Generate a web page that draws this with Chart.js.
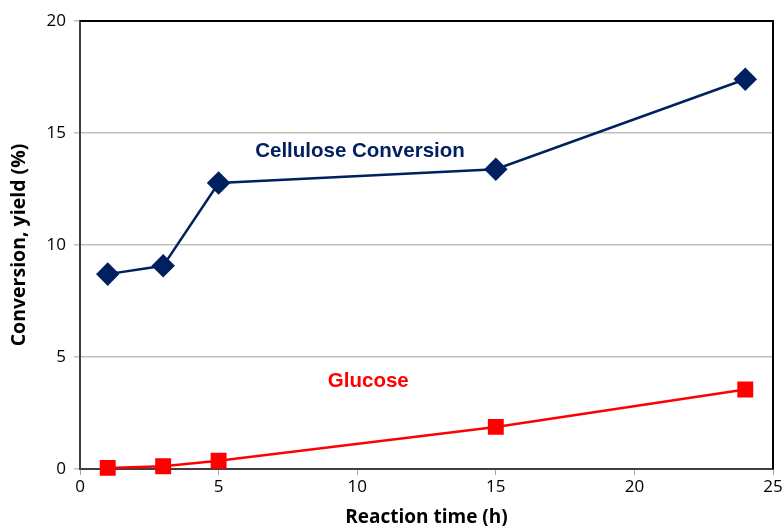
<!DOCTYPE html>
<html>
<head>
<meta charset="utf-8">
<script src="https://cdn.jsdelivr.net/npm/chart.js@4.4.0/dist/chart.umd.min.js"></script>
<style>
  html, body { margin: 0; padding: 0; background: #fff; }
  #wrap { width: 782px; height: 526px; }
</style>
</head>
<body>
<div id="wrap"><canvas id="chart"></canvas></div>
<script>
// reaction time (h) and measured values (%)
const hours = [1, 3, 5, 15, 24];
const cellulose = [8.7, 9.07, 12.77, 13.38, 17.4];
const glucose = [0.05, 0.12, 0.37, 1.88, 3.55];
const xTicks = [0, 5, 10, 15, 20, 25];
const yTicks = [0, 5, 10, 15, 20];

const FONT = "'Open Sans', 'Liberation Sans', sans-serif";

// series name written next to each curve, placed in data units
const seriesLabels = [
  { text: 'Cellulose Conversion', x: 10.1, y: 14.2, color: '#002060' },
  { text: 'Glucose', x: 10.4, y: 3.9, color: '#ff0000' }
];

const frameAndLabels = {
  id: 'frameAndLabels',
  afterDraw(chart) {
    const { ctx, chartArea: a, scales } = chart;
    ctx.save();
    // top and right edges of the plot box
    ctx.strokeStyle = '#000';
    ctx.lineWidth = 2;
    ctx.beginPath();
    ctx.moveTo(a.left, a.top);
    ctx.lineTo(a.right, a.top);
    ctx.lineTo(a.right, a.bottom);
    ctx.stroke();
    ctx.font = "bold 20.5px 'Liberation Sans', Arial, sans-serif";
    ctx.textAlign = 'center';
    ctx.textBaseline = 'middle';
    seriesLabels.forEach(l => {
      ctx.fillStyle = l.color;
      ctx.fillText(l.text, scales.x.getPixelForValue(l.x), scales.y.getPixelForValue(l.y));
    });
    ctx.restore();
  }
};

new Chart(document.getElementById('chart').getContext('2d'), {
  type: 'line',
  data: {
    datasets: [
      {
        label: 'Cellulose Conversion',
        data: hours.map((h, i) => ({ x: h, y: cellulose[i] })),
        borderColor: '#002060',
        backgroundColor: '#002060',
        borderWidth: 2.5,
        pointStyle: 'rectRot',
        pointRadius: 10,
        pointHoverRadius: 10,
        tension: 0
      },
      {
        label: 'Glucose',
        data: hours.map((h, i) => ({ x: h, y: glucose[i] })),
        borderColor: '#ff0000',
        backgroundColor: '#ff0000',
        borderWidth: 2.5,
        pointStyle: 'rect',
        pointRadius: 9.5,
        pointHoverRadius: 9.5,
        tension: 0
      }
    ]
  },
  options: {
    responsive: true,
    maintainAspectRatio: false,
    animation: false,
    clip: false,
    layout: { autoPadding: false, padding: { top: 21, right: 9, left: 0, bottom: 0 } },
    plugins: {
      legend: { display: false },
      tooltip: { enabled: false }
    },
    scales: {
      x: {
        type: 'linear',
        min: 0,
        max: 25,
        afterBuildTicks: s => { s.ticks = xTicks.map(v => ({ value: v })); },
        afterFit: s => { s.height = 57; s.paddingLeft = 0; s.paddingRight = 0; },
        ticks: { color: '#000', font: { family: FONT, size: 17 }, padding: 2 },
        grid: { drawOnChartArea: false, drawTicks: true, tickLength: 6, color: '#a6a6a6' },
        border: { color: '#404040', width: 2 },
        title: {
          display: true,
          text: 'Reaction time (h)',
          color: '#000',
          font: { family: FONT, size: 19, weight: 'bold' },
          padding: { top: 0, bottom: -3 }
        }
      },
      y: {
        min: 0,
        max: 20,
        afterBuildTicks: s => { s.ticks = yTicks.map(v => ({ value: v })); },
        afterFit: s => { s.width = 80; s.paddingTop = 0; s.paddingBottom = 0; },
        ticks: { color: '#000', font: { family: FONT, size: 17 }, padding: 8 },
        grid: { color: '#c0c0c0', lineWidth: 1.5, tickLength: 6 },
        border: { color: '#404040', width: 2 },
        title: {
          display: true,
          text: 'Conversion, yield (%)',
          color: '#000',
          font: { family: FONT, size: 19.5, weight: 'bold' },
          padding: { top: 8, bottom: 0 }
        }
      }
    }
  },
  plugins: [frameAndLabels]
});
</script>
</body>
</html>
